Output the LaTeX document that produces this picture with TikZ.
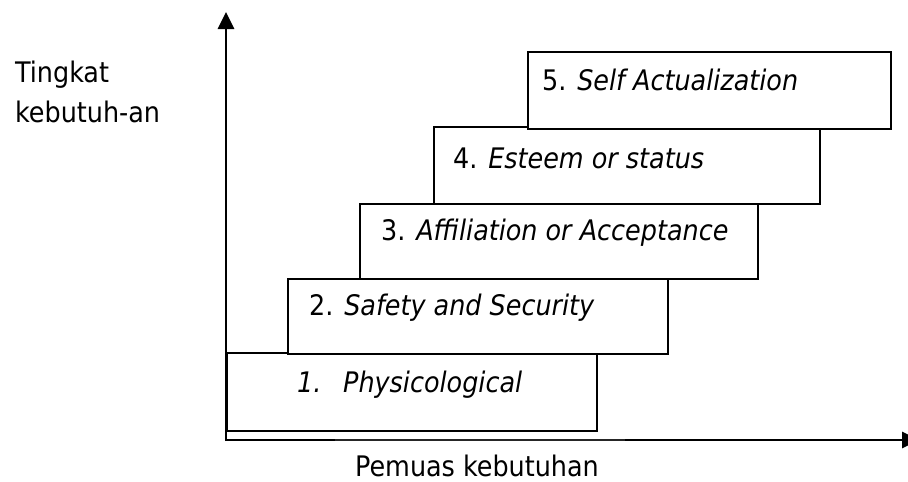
\documentclass[tikz,border=0pt]{standalone}
\usepackage{fontspec}
\setmainfont{DejaVu Sans Condensed}
\usetikzlibrary{arrows.meta}
\tikzset{
  box/.style={draw=black, line width=2.2pt, fill=white, inner sep=0pt, anchor=north west},
  lbl/.style={inner sep=0pt, anchor=base west, font=\fontsize{28.3}{40}\selectfont},
  axis/.style={draw=black, line width=2.8pt},
  axisthin/.style={draw=black!85, line width=1.4pt},
  tip/.style={-{Triangle[width=16pt,length=17pt]}}
}
\begin{document}
\begin{tikzpicture}[x=1pt,y=-1pt]
\useasboundingbox (0,0) rectangle (908,482);
\clip (0,0) rectangle (908,482);
% coordinates of axes
\coordinate (O) at (226,441);
\coordinate (ytip) at (226,12);
\coordinate (xo) at (226,440);
\coordinate (xa) at (335,440);
\coordinate (xb) at (625,440);
\coordinate (xtip) at (919,440);
% boxes
\node[box, minimum width=370pt, minimum height=78pt] (b1) at (226,352) {};
\node[box, minimum width=380pt, minimum height=75pt] (b2) at (287,278) {};
\node[box, minimum width=398pt, minimum height=75pt] (b3) at (359,203) {};
\node[box, minimum width=386pt, minimum height=77pt] (b4) at (433,126) {};
\node[box, minimum width=363pt, minimum height=77pt] (b5) at (527,51) {};
% labels
\node[lbl] (t1) at (297,392) {\itshape\makebox[46pt][l]{1.}Physicological};
\node[lbl] (t2) at (309,315) {2. \textit{Safety and Security}};
\node[lbl] (t3) at (381,240) {3. \textit{Affiliation or Acceptance}};
\node[lbl] (t4) at (453,168) {4. \textit{Esteem or status}};
\node[lbl] (t5) at (542,90) {5. \textit{Self Actualization}};
% axes
\draw[axis, tip] (O) -- (ytip);
\draw[axisthin] (xo) -- (xtip);
\draw[axis] (xo) -- (xa);
\draw[axis, tip] (xb) -- (xtip);
% axis labels
\node[lbl] (ylab1) at (15,82) {Tingkat};
\node[lbl] (ylab2) at (15,122) {kebutuh-an};
\node[lbl] (xlab) at (355,476) {Pemuas kebutuhan};
\end{tikzpicture}
\end{document}
